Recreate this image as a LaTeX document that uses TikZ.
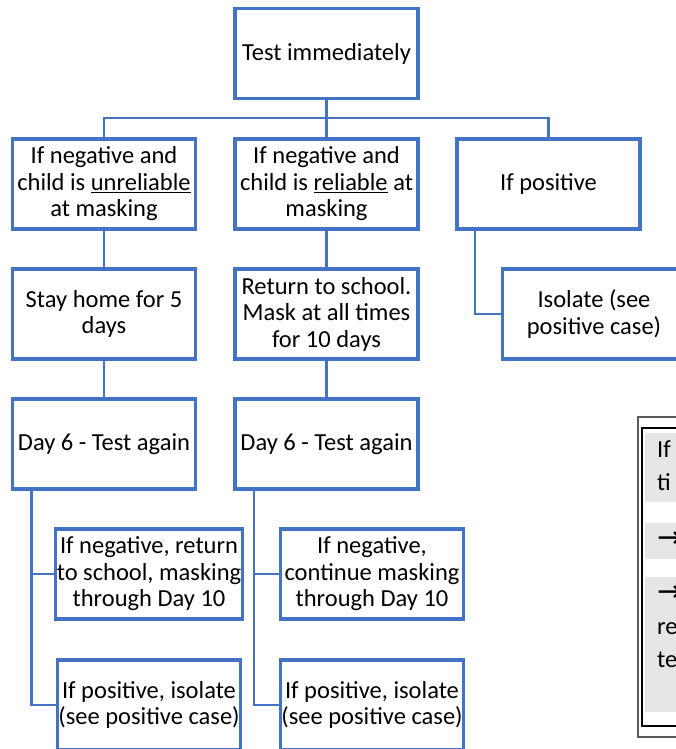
\documentclass[tikz,border=0pt]{standalone}
\usepackage{fontspec}
\setmainfont{Carlito}
\newfontfamily\arrowfont{DejaVu Sans}
\definecolor{boxblue}{HTML}{4472C4}
\definecolor{bandgray}{HTML}{E7E6E6}
\definecolor{framegray}{HTML}{595959}
\newcommand{\boxfont}{\fontsize{24.5}{26.5}\selectfont}
\newcommand{\notefont}{\fontsize{24.5}{33}\selectfont}

\begin{document}
\begin{tikzpicture}[x=1pt,y=1pt,
	stepbox/.style={draw=boxblue,line width=3.2pt,fill=white,minimum width=183pt,minimum height=90pt,inner sep=1pt,align=center,font=\boxfont},
	link/.style={draw=boxblue,line width=2.2pt},
	noteband/.style={fill=bandgray,anchor=north west,align=left,inner xsep=12pt,inner ysep=1.5pt,text width=60pt,font=\notefont}]
\useasboundingbox (0,0) rectangle (676,-749);
\node (test) [stepbox] at (326.5,-53.5) {Test immediately};
\node (unrel) [stepbox] at (104,-184) {If negative and\\child is \underline{unreliable}\\at masking};
\node (rel) [stepbox] at (326.5,-184) {If negative and\\child is \underline{reliable} at\\masking};
\node (pos) [stepbox] at (548.5,-184) {If positive};
\node (home) [stepbox] at (104,-314) {Stay home for 5\\days};
\node (school) [stepbox] at (326.5,-314) {Return to school.\\Mask at all times\\for 10 days};
\node (isolate) [stepbox] at (594,-314) {Isolate (see\\positive case)};
\node (dayA) [stepbox] at (104,-444) {Day 6 - Test again};
\node (dayB) [stepbox] at (326.5,-444) {Day 6 - Test again};
\node (negA) [stepbox] at (149,-574) {If negative, return\\to school, masking\\through Day 10};
\node (negB) [stepbox] at (372,-574) {If negative,\\continue masking\\through Day 10};
\node (posA) [stepbox] at (149,-705) {If positive, isolate\\(see positive case)};
\node (posB) [stepbox] at (372,-705) {If positive, isolate\\(see positive case)};
\coordinate (busR) at (548.5,-118);
\draw [link] (test.south) -- (rel.north);
\draw [link] (unrel.north) |- (busR) -- (pos.north);
\draw [link] (unrel.south) -- (home.north);
\draw [link] (rel.south) -- (school.north);
\draw [link] (home.south) -- (dayA.north);
\draw [link] (school.south) -- (dayB.north);
\draw [link] ([xshift=-73.5pt]pos.south) |- (isolate.west);
\foreach \col/\row in {A/A,B/B}{
	\draw [link] ([xshift=-72.5pt]day\col.south) |- (neg\row.west);
	\draw [link] ([xshift=-72.5pt]day\col.south) |- (pos\row.west);
}
\draw [framegray,line width=1.3pt] (638,-737) rectangle (700,-417);
\draw [black,line width=2.2pt] (642,-726) rectangle (700,-428);
\node (band1) [noteband] at (645,-433) {If\strut\\ti\strut};
\node (band2) [noteband] at (645,-523) {{\arrowfont\fontsize{30}{33}\selectfont →}\strut};
\node (band3) [noteband] at (645,-577) {{\arrowfont\fontsize{30}{33}\selectfont →}\strut\\re\strut\\te\strut\\\strut};
\end{tikzpicture}
\end{document}
